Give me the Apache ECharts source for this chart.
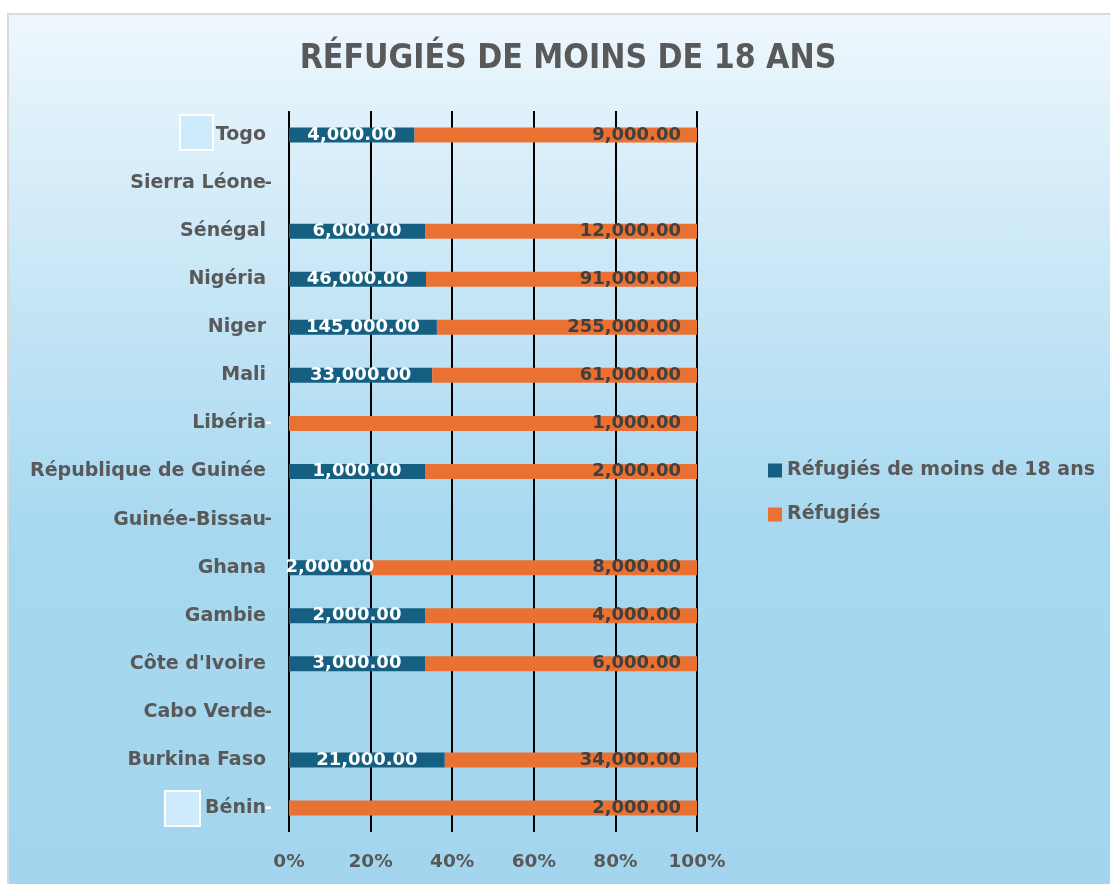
<!DOCTYPE html>
<html lang="fr">
<head>
    <meta charset="UTF-8">
    <title>Réfugiés de moins de 18 ans</title>
    <script src="https://cdn.jsdelivr.net/npm/echarts@6/dist/echarts.min.js"></script>
    <style>
        body { margin: 0; background: #fff; }
        #frame {
            position: absolute; left: 7px; top: 13px; width: 1103px; height: 871px;
            border-top: 2px solid #d9d9d9; border-left: 2px solid #d9d9d9;
            background: linear-gradient(to bottom, #eef7fd 0%, #c2e4f5 35%, #a6d8f0 60%, #a3d6ee 100%);
        }
        #container { position: absolute; left: 0; top: 0; width: 1110px; height: 884px; }
    </style>
</head>
<body>
<div id="frame"></div>
<div id="container"></div>
<script>
    var countries = ['Bénin', 'Burkina Faso', 'Cabo Verde', "Côte d'Ivoire", 'Gambie', 'Ghana',
        'Guinée-Bissau', 'République de Guinée', 'Libéria', 'Mali', 'Niger', 'Nigéria',
        'Sénégal', 'Sierra Léone', 'Togo'];
    var moins18 = [0, 21000, 0, 3000, 2000, 2000, 0, 1000, 0, 33000, 145000, 46000, 6000, 0, 4000];
    var refugies = [2000, 34000, 0, 6000, 4000, 8000, 0, 2000, 1000, 61000, 255000, 91000, 12000, 0, 9000];
    var xTicks = [0, 20, 40, 60, 80, 100];

    var fmt = function (v) {
        return v.toLocaleString('en-US', { minimumFractionDigits: 2, maximumFractionDigits: 2 });
    };

    // part de chaque série dans le total (empilement 100 %)
    function share(values, i) {
        var total = moins18[i] + refugies[i];
        return total === 0 ? 0 : values[i] / total * 100;
    }

    function buildData(values, color) {
        return values.map(function (v, i) {
            var item = { value: share(values, i), raw: v };
            if (v === 0) {
                item.label = { position: 'left', distance: 17, color: color };
            }
            return item;
        });
    }

    var myCharts = echarts.init(document.getElementById('container'), null, { renderer: 'canvas' });

    var FONT = 'DejaVu Sans';
    var labelFont = { fontFamily: FONT, fontWeight: 'bold', fontSize: 18 };

    myCharts.setOption({
        backgroundColor: 'transparent',
        title: {
            text: 'RÉFUGIÉS DE MOINS DE 18 ANS',
            left: 563,
            textAlign: 'center',
            top: 37,
            textStyle: {
                fontFamily: "'DejaVu Sans Condensed', Roboto, sans-serif",
                fontWeight: 'bold',
                fontSize: 33.5,
                color: '#595959'
            }
        },
        legend: {
            orient: 'vertical',
            left: 763,
            top: 456,
            itemWidth: 14,
            itemHeight: 14,
            itemGap: 25,
            icon: 'rect',
            textStyle: { fontFamily: FONT, fontWeight: 'bold', fontSize: 19, color: '#595959' },
            data: ['Réfugiés de moins de 18 ans', 'Réfugiés']
        },
        grid: { left: 289, right: 413, top: 111, bottom: 52, containLabel: false },
        xAxis: {
            type: 'value',
            min: xTicks[0],
            max: xTicks[xTicks.length - 1],
            interval: 20,
            axisLine: { show: false },
            axisTick: { show: false },
            splitLine: { lineStyle: { color: '#000', width: 2 } },
            axisLabel: {
                margin: 21,
                formatter: '{value}%',
                fontFamily: FONT, fontWeight: 'bold', fontSize: 18.5, color: '#595959'
            }
        },
        yAxis: {
            type: 'category',
            data: countries,
            axisLine: { show: false },
            axisTick: { show: false },
            axisLabel: {
                margin: 23,
                fontFamily: FONT, fontWeight: 'bold', fontSize: 19, color: '#595959'
            }
        },
        series: [
            {
                name: 'Réfugiés de moins de 18 ans',
                type: 'bar',
                stack: 'total',
                barWidth: 15,
                itemStyle: { color: '#156082' },
                label: Object.assign({
                    show: true,
                    position: 'inside',
                    color: '#fff',
                    formatter: function (p) { return p.data.raw === 0 ? '-' : fmt(p.data.raw); }
                }, labelFont),
                data: buildData(moins18, '#ffffff')
            },
            {
                name: 'Réfugiés',
                type: 'bar',
                stack: 'total',
                barWidth: 15,
                itemStyle: { color: '#e97132' },
                label: Object.assign({
                    show: true,
                    position: 'insideRight',
                    distance: 16,
                    color: '#404040',
                    formatter: function (p) { return p.data.raw === 0 ? '-' : fmt(p.data.raw); }
                }, labelFont),
                data: buildData(refugies, '#595959')
            }
        ],
        graphic: [
            {
                type: 'rect', left: 179, top: 114,
                shape: { width: 33, height: 35 },
                style: { fill: '#cdebfc', stroke: '#ffffff', lineWidth: 2 }
            },
            {
                type: 'rect', left: 164, top: 790,
                shape: { width: 35, height: 35 },
                style: { fill: '#cdebfc', stroke: '#ffffff', lineWidth: 2 }
            }
        ]
    });
</script>
</body>
</html>
